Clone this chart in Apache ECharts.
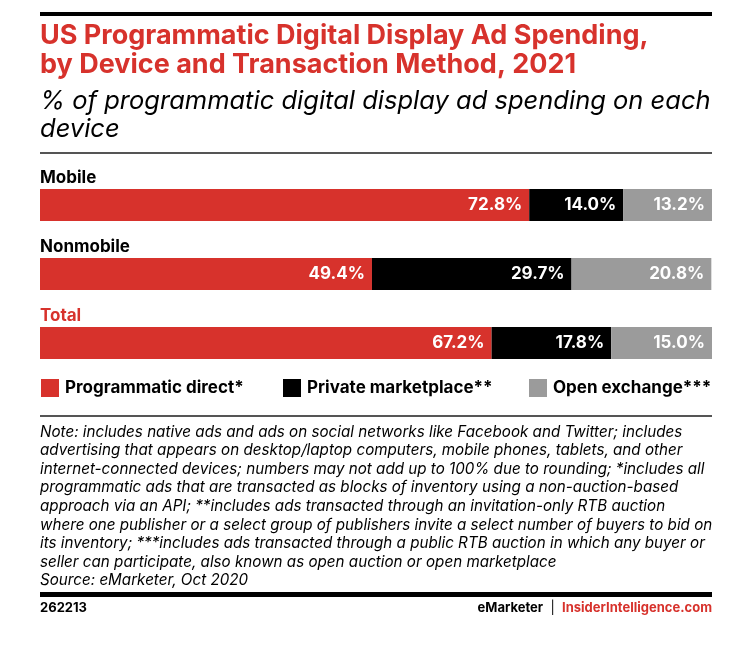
<!DOCTYPE html>
<html>
<head>
<meta charset="utf-8">
<script src="https://cdn.jsdelivr.net/npm/echarts@6/dist/echarts.min.js"></script>
<style>
  html, body { margin: 0; padding: 0; background: #fff; }
  #chart { width: 756px; height: 660px; }
</style>
</head>
<body>
<div id="chart"></div>
<script>
const categories = ['Mobile', 'Nonmobile', 'Total'];
const seriesNames = ['Programmatic direct*', 'Private marketplace**', 'Open exchange***'];
const programmaticDirect = [72.8, 49.4, 67.2];
const privateMarketplace = [14.0, 29.7, 17.8];
const openExchange = [13.2, 20.8, 15.0];

const titleLines = ['US Programmatic Digital Display Ad Spending,', 'by Device and Transaction Method, 2021'];
const subtitleLines = ['% of programmatic digital display ad spending on each', 'device'];
const noteLines = [
  'Note: includes native ads and ads on social networks like Facebook and Twitter; includes',
  'advertising that appears on desktop/laptop computers, mobile phones, tablets, and other',
  'internet-connected devices; numbers may not add up to 100% due to rounding; *includes all',
  'programmatic ads that are transacted as blocks of inventory using a non-auction-based',
  'approach via an API; **includes ads transacted through an invitation-only RTB auction',
  'where one publisher or a select group of publishers invite a select number of buyers to bid on',
  'its inventory; ***includes ads transacted through a public RTB auction in which any buyer or',
  'seller can participate, also known as open auction or open marketplace',
  'Source: eMarketer, Oct 2020'
];

const RED = '#d7322c';
const BLACK = '#000000';
const GRAY = '#9b9b9b';
const FONT = 'Inter, Roboto, sans-serif';
const colors = [RED, BLACK, GRAY];
const values = [programmaticDirect, privateMarketplace, openExchange];

const chart = echarts.init(document.getElementById('chart'), null, { renderer: 'canvas' });

const graphics = [];
graphics.push({ type: 'rect', shape: { x: 40, y: 12, width: 672, height: 4 }, style: { fill: '#000' } });
titleLines.forEach((t, i) => {
  graphics.push({ type: 'text', x: 40, y: 36 + i * 28.5, style: { text: t, fill: RED, font: 'bold 27px ' + FONT, verticalAlign: 'middle' } });
});
subtitleLines.forEach((t, i) => {
  graphics.push({ type: 'text', x: 40, y: 101 + i * 28.5, style: { text: t, fill: '#000', font: 'italic 25.5px ' + FONT, verticalAlign: 'middle' } });
});
graphics.push({ type: 'rect', shape: { x: 40, y: 152, width: 672, height: 2 }, style: { fill: '#555' } });
graphics.push({ type: 'rect', shape: { x: 40, y: 415, width: 672, height: 2 }, style: { fill: '#555' } });
noteLines.forEach((t, i) => {
  graphics.push({ type: 'text', x: 40, y: 432 + i * 18.6, style: { text: t, fill: '#000', font: 'italic 15.2px ' + FONT, verticalAlign: 'middle' } });
});
graphics.push({ type: 'rect', shape: { x: 40, y: 592, width: 672, height: 5 }, style: { fill: '#000' } });
graphics.push({ type: 'text', x: 40, y: 608, style: { text: '262213', fill: '#000', font: 'bold 13px ' + FONT, verticalAlign: 'middle' } });
graphics.push({ type: 'text', x: 712, y: 608, style: {
  text: '{a|eMarketer}{s|  |  }{b|InsiderIntelligence.com}',
  align: 'right', verticalAlign: 'middle',
  rich: {
    a: { fill: '#000', font: 'bold 13px ' + FONT },
    s: { fill: '#000', font: '13px ' + FONT },
    b: { fill: RED, font: 'bold 13px ' + FONT }
  }
} });

const legendLefts = [41, 283, 529];

const option = {
  animation: false,
  backgroundColor: '#fff',
  grid: { left: 40, right: 44, top: 170.5, height: 207, containLabel: false },
  xAxis: { type: 'value', min: 0, max: 100, show: false },
  yAxis: {
    type: 'category', data: categories, inverse: true,
    axisLine: { show: false }, axisTick: { show: false }, splitLine: { show: false },
    axisLabel: {
      inside: true, margin: 0, interval: 0,
      verticalAlign: 'bottom', padding: [0, 0, 19, 0],
      formatter: v => v === 'Total' ? '{t|' + v + '}' : '{n|' + v + '}',
      rich: {
        n: { color: '#000', fontFamily: FONT, fontWeight: 'bold', fontSize: 17, lineHeight: 17 },
        t: { color: RED, fontFamily: FONT, fontWeight: 'bold', fontSize: 17, lineHeight: 17 }
      }
    }
  },
  legend: seriesNames.map((n, i) => ({
    data: [n], left: legendLefts[i], top: 379, padding: 0,
    icon: 'rect', itemWidth: 18, itemHeight: 18, selectedMode: false,
    textStyle: { color: '#000', fontFamily: FONT, fontWeight: 'bold', fontSize: 17, padding: [0, 0, 0, 1] }
  })),
  series: seriesNames.map((n, i) => ({
    name: n, type: 'bar', stack: 'total', data: values[i], barWidth: 32,
    itemStyle: { color: colors[i] },
    label: {
      show: true, position: 'insideRight', distance: 7, color: '#fff',
      fontFamily: FONT, fontWeight: 'bold', fontSize: 17,
      formatter: p => p.value.toFixed(1) + '%'
    }
  })),
  graphic: graphics
};
chart.setOption(option);
</script>
</body>
</html>
